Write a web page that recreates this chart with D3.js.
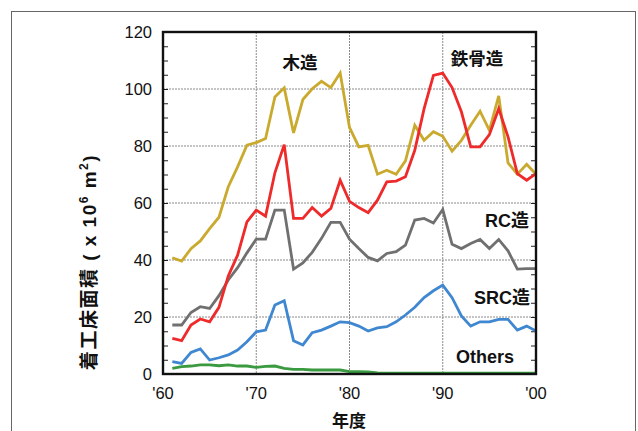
<!DOCTYPE html>
<html>
<head>
<meta charset="utf-8">
<script src="https://cdn.jsdelivr.net/npm/d3@7"></script>
<style>
  body { margin: 0; background: #fff; }
  svg { display: block; font-family: "Liberation Sans", Arial, "Noto Sans CJK JP", sans-serif; }
</style>
</head>
<body>
<svg id="chart"></svg>
<script>
// construction start floor area by structure (x 10^6 m2), fiscal years 1961-2000
const years = [1961, 1962, 1963, 1964, 1965, 1966, 1967, 1968, 1969, 1970,
               1971, 1972, 1973, 1974, 1975, 1976, 1977, 1978, 1979, 1980,
               1981, 1982, 1983, 1984, 1985, 1986, 1987, 1988, 1989, 1990,
               1991, 1992, 1993, 1994, 1995, 1996, 1997, 1998, 1999, 2000];

const wood  = [40.8, 39.6, 44.0, 46.7, 51.0, 55.0, 65.7, 72.7, 80.3, 81.2,
               82.6, 97.2, 100.4, 84.6, 96.3, 100.1, 102.7, 100.5, 105.6, 86.5,
               79.7, 80.2, 70.1, 71.5, 70.1, 74.8, 87.3, 82.0, 85.0, 83.4,
               78.2, 82.0, 87.3, 92.2, 85.5, 97.6, 74.1, 70.1, 73.6, 70.1];
const steel = [12.5, 11.7, 17.2, 19.3, 18.3, 23.4, 34.4, 41.7, 53.4, 57.5,
               55.4, 70.6, 80.5, 54.6, 54.6, 58.4, 55.4, 58.1, 68.0, 60.6,
               58.4, 56.6, 61.0, 67.4, 67.7, 69.2, 78.5, 93.1, 104.8, 105.6,
               100.5, 92.0, 79.7, 79.7, 84.0, 93.1, 83.2, 70.3, 68.0, 70.3];
const rc    = [17.2, 17.2, 21.6, 23.6, 23.0, 27.5, 33.0, 37.3, 42.5, 47.3,
               47.3, 57.5, 57.5, 36.8, 39.0, 42.7, 47.6, 53.2, 53.2, 47.3,
               44.0, 40.9, 39.7, 42.3, 42.9, 45.2, 54.0, 54.6, 53.0, 57.7,
               45.5, 44.0, 45.8, 47.2, 44.0, 47.2, 43.2, 36.8, 37.0, 37.0];
const src   = [4.3, 3.7, 7.6, 8.8, 4.9, 5.7, 6.7, 8.4, 11.3, 14.8,
               15.4, 24.2, 25.7, 11.7, 10.2, 14.5, 15.4, 16.8, 18.3, 18.0,
               16.8, 15.1, 16.2, 16.6, 18.3, 20.7, 23.4, 26.8, 29.2, 31.2,
               26.8, 20.4, 16.8, 18.3, 18.3, 19.2, 19.2, 15.4, 16.8, 15.1];
const others = [2.0, 2.6, 2.8, 3.2, 3.2, 2.9, 3.2, 2.8, 2.8, 2.3,
                2.7, 2.8, 2.0, 1.6, 1.6, 1.4, 1.4, 1.4, 1.4, 0.8,
                0.8, 0.7, 0.4, 0.3, 0.3, 0.3, 0.3, 0.3, 0.3, 0.3,
                0.3, 0.3, 0.3, 0.3, 0.3, 0.3, 0.3, 0.3, 0.3, 0.3];

const xTicks = [1960, 1970, 1980, 1990, 2000];
const xTickLabels = ["'60", "'70", "'80", "'90", "'00"];
const yTicks = [0, 20, 40, 60, 80, 100, 120];

const seriesNames = ["木造", "鉄骨造", "RC造", "SRC造", "Others"];
const seriesColors = ["#c9aa2e", "#ee2a2a", "#707070", "#3f87d0", "#3a9a3f"];

function main() {
    const svg = d3.select("#chart")
        .attr("width", 638)
        .attr("height", 431);

    // outer frame of the figure
    svg.append("rect")
        .attr("x", 11.5).attr("y", 11.5)
        .attr("width", 624).attr("height", 440)
        .attr("fill", "none")
        .attr("stroke", "#666")
        .attr("stroke-width", 1);

    const left = 163, right = 536, top = 32, bottom = 374;

    const x = d3.scaleLinear().domain([1960, 2000]).range([left, right]);
    const y = d3.scaleLinear().domain([0, 120]).range([bottom, top]);

    // dotted grid
    svg.append("g")
        .selectAll("line")
        .data(yTicks.slice(1, -1))
        .join("line")
        .attr("x1", left).attr("x2", right)
        .attr("y1", d => y(d)).attr("y2", d => y(d))
        .attr("stroke", "#8a8a8a")
        .attr("stroke-width", 1)
        .attr("stroke-dasharray", "2,1");

    svg.append("g")
        .selectAll("line")
        .data(xTicks.slice(1, -1))
        .join("line")
        .attr("x1", d => x(d)).attr("x2", d => x(d))
        .attr("y1", top).attr("y2", bottom)
        .attr("stroke", "#8a8a8a")
        .attr("stroke-width", 1)
        .attr("stroke-dasharray", "2,1");

    // minor ticks every 5, inside on both sides
    const minor = y.ticks(24);
    const leftAxis = d3.axisRight(y).tickValues(minor).tickSize(5).tickFormat("");
    const rightAxis = d3.axisLeft(y).tickValues(minor).tickSize(5).tickFormat("");
    svg.append("g").attr("transform", `translate(${left},0)`).call(leftAxis)
        .call(g => g.select(".domain").remove())
        .selectAll("line").attr("stroke", "#222").attr("stroke-width", 1);
    svg.append("g").attr("transform", `translate(${right},0)`).call(rightAxis)
        .call(g => g.select(".domain").remove())
        .selectAll("line").attr("stroke", "#222").attr("stroke-width", 1);

    // y tick labels
    svg.append("g")
        .selectAll("text")
        .data(yTicks)
        .join("text")
        .attr("x", 152)
        .attr("y", d => y(d))
        .attr("dy", "0.36em")
        .attr("text-anchor", "end")
        .attr("font-size", "16.5px")
        .attr("fill", "#111")
        .text(d => d);

    // x tick labels
    svg.append("g")
        .selectAll("text")
        .data(xTicks)
        .join("text")
        .attr("x", d => x(d))
        .attr("y", 399)
        .attr("text-anchor", "middle")
        .attr("font-size", "16.5px")
        .attr("fill", "#111")
        .text((d, i) => xTickLabels[i]);

    // lines
    const allSeries = [wood, steel, rc, src, others];
    const line = d3.line()
        .x((d, i) => x(years[i]))
        .y(d => y(d));

    // draw others first so the main series sit on top
    const order = [4, 3, 2, 0, 1];
    svg.append("g")
        .selectAll("path")
        .data(order)
        .join("path")
        .attr("d", k => line(allSeries[k]))
        .attr("fill", "none")
        .attr("stroke", k => seriesColors[k])
        .attr("stroke-width", 2.8)
        .attr("stroke-linejoin", "miter");

    // plot frame
    svg.append("rect")
        .attr("x", left).attr("y", top)
        .attr("width", right - left).attr("height", bottom - top)
        .attr("fill", "none")
        .attr("stroke", "#111")
        .attr("stroke-width", 2.4);

    // series labels
    const labelPos = [
        { x: 300, y: 69, anchor: "middle" },
        { x: 477, y: 65, anchor: "middle" },
        { x: 529, y: 227, anchor: "end" },
        { x: 530, y: 304, anchor: "end" },
        { x: 514, y: 363, anchor: "end" }
    ];
    svg.append("g")
        .selectAll("text")
        .data(seriesNames)
        .join("text")
        .attr("x", (d, i) => labelPos[i].x)
        .attr("y", (d, i) => labelPos[i].y)
        .attr("text-anchor", (d, i) => labelPos[i].anchor)
        .attr("font-size", (d, i) => i < 2 ? "17.5px" : "18px")
        .attr("font-weight", "bold")
        .attr("fill", "#111")
        .text(d => d);

    // axis titles
    svg.append("text")
        .attr("x", 349)
        .attr("y", 427)
        .attr("text-anchor", "middle")
        .attr("font-size", "17px")
        .attr("font-weight", "bold")
        .attr("fill", "#111")
        .text("年度");

    const yt = svg.append("text")
        .attr("transform", "translate(96,262) rotate(-90)")
        .attr("text-anchor", "middle")
        .attr("font-size", "19px")
        .attr("font-weight", "bold")
        .attr("letter-spacing", "1.5px")
        .attr("fill", "#111");
    yt.append("tspan").text("着工床面積 ( x 10");
    yt.append("tspan").attr("font-size", "12px").attr("dy", "-8").text("6");
    yt.append("tspan").attr("dy", "8").text("  m");
    yt.append("tspan").attr("font-size", "12px").attr("dy", "-8").text("2");
    yt.append("tspan").attr("dy", "8").text(")");
}

main();
</script>
</body>
</html>
